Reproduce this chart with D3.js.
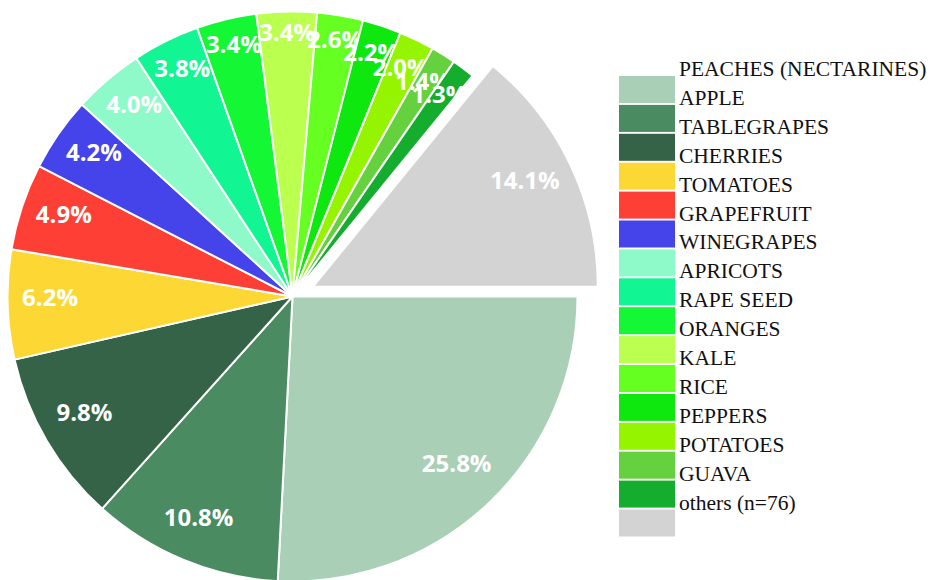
<!DOCTYPE html>
<html>
<head>
<meta charset="utf-8">
<script src="https://cdn.jsdelivr.net/npm/d3@7/dist/d3.min.js"></script>
<style>
  html, body { margin: 0; padding: 0; background: #fff; }
  svg { display: block; }
</style>
</head>
<body>
<svg id="chart" width="930" height="580"></svg>
<script>
// Crop shares (percent of total), clockwise from 3 o'clock
const categories = [
  "PEACHES (NECTARINES)", "APPLE", "TABLEGRAPES", "CHERRIES", "TOMATOES",
  "GRAPEFRUIT", "WINEGRAPES", "APRICOTS", "RAPE SEED", "ORANGES",
  "KALE", "RICE", "PEPPERS", "POTATOES", "GUAVA", "others (n=76)"
];
const shares = [25.8, 10.8, 9.8, 6.2, 4.9, 4.2, 4.0, 3.8, 3.4, 3.4, 2.6, 2.2, 2.0, 1.4, 1.3, 14.1];
const colors = [
  "#a9cfb6", "#4a8b61", "#356347", "#fdd835", "#fe3f35",
  "#4444ea", "#8ef9c9", "#12f593", "#14f734", "#bbff4f",
  "#66ff22", "#0ee80e", "#95f500", "#66d13e", "#14ad2e", "#d3d3d3"
];
const pulled = ["others (n=76)"];

const svg = d3.select("#chart");
const cx = 292.5, cy = 296.5, radius = 285, pullDist = 22.5;

const data = categories.map((name, i) => ({ name, value: shares[i], color: colors[i] }));

const pie = d3.pie()
  .sort(null)
  .value(d => d.value)
  .startAngle(Math.PI / 2)
  .endAngle(Math.PI / 2 + 2 * Math.PI);

const arc = d3.arc().innerRadius(0).outerRadius(radius);
const arcs = pie(data);

const pieG = svg.append("g").attr("transform", `translate(${cx},${cy})`);

const slice = pieG.selectAll("g.slice")
  .data(arcs)
  .join("g")
  .attr("class", "slice")
  .attr("transform", d => {
    if (!pulled.includes(d.data.name)) return null;
    const mid = (d.startAngle + d.endAngle) / 2;
    return `translate(${Math.sin(mid) * pullDist},${-Math.cos(mid) * pullDist})`;
  });

slice.append("path")
  .attr("d", arc)
  .attr("fill", d => d.data.color)
  .attr("stroke", "#fff")
  .attr("stroke-width", 2)
  .attr("stroke-linejoin", "round");

// Percentage labels: horizontal text pushed out along the bisector
// until its outermost corner sits just inside the rim.
const rimFit = radius - 14;
const labelLift = -7;
const labels = slice.append("text")
  .attr("text-anchor", "middle")
  .attr("dominant-baseline", "central")
  .attr("font-family", "'Open Sans', sans-serif")
  .attr("font-weight", 700)
  .attr("font-size", 24)
  .attr("fill", "#fff")
  .text(d => d.data.value.toFixed(1) + "%");

labels.each(function(d) {
  const bb = this.getBBox();
  const w = bb.width / 2, h = 11;
  const mid = (d.startAngle + d.endAngle) / 2;
  const ux = Math.sin(mid), uy = -Math.cos(mid);
  const ax = Math.abs(ux), ay = Math.abs(uy);
  const b = ax * w + ay * h;
  const dist = -b + Math.sqrt(b * b - (w * w + h * h - rimFit * rimFit));
  d3.select(this).attr("x", ux * dist).attr("y", uy * dist + labelLift);
});

// Legend
const legendX = 619, legendTop = 76, rowStep = 28.9, swatchW = 56, swatchH = 27;
const rowScale = d3.scaleLinear().domain([0, 1]).range([legendTop, legendTop + rowStep]);

const legend = svg.append("g").attr("class", "legend");
legend.selectAll("rect")
  .data(data)
  .join("rect")
  .attr("x", legendX)
  .attr("y", (d, i) => rowScale(i))
  .attr("width", swatchW)
  .attr("height", swatchH)
  .attr("fill", d => d.color);

legend.selectAll("text")
  .data(data)
  .join("text")
  .attr("x", legendX + swatchW + 4)
  .attr("y", (d, i) => rowScale(i))
  .attr("font-family", "'Liberation Serif', 'Times New Roman', serif")
  .attr("font-size", 21.5)
  .attr("fill", "#111")
  .text(d => d.name);
</script>
</body>
</html>
